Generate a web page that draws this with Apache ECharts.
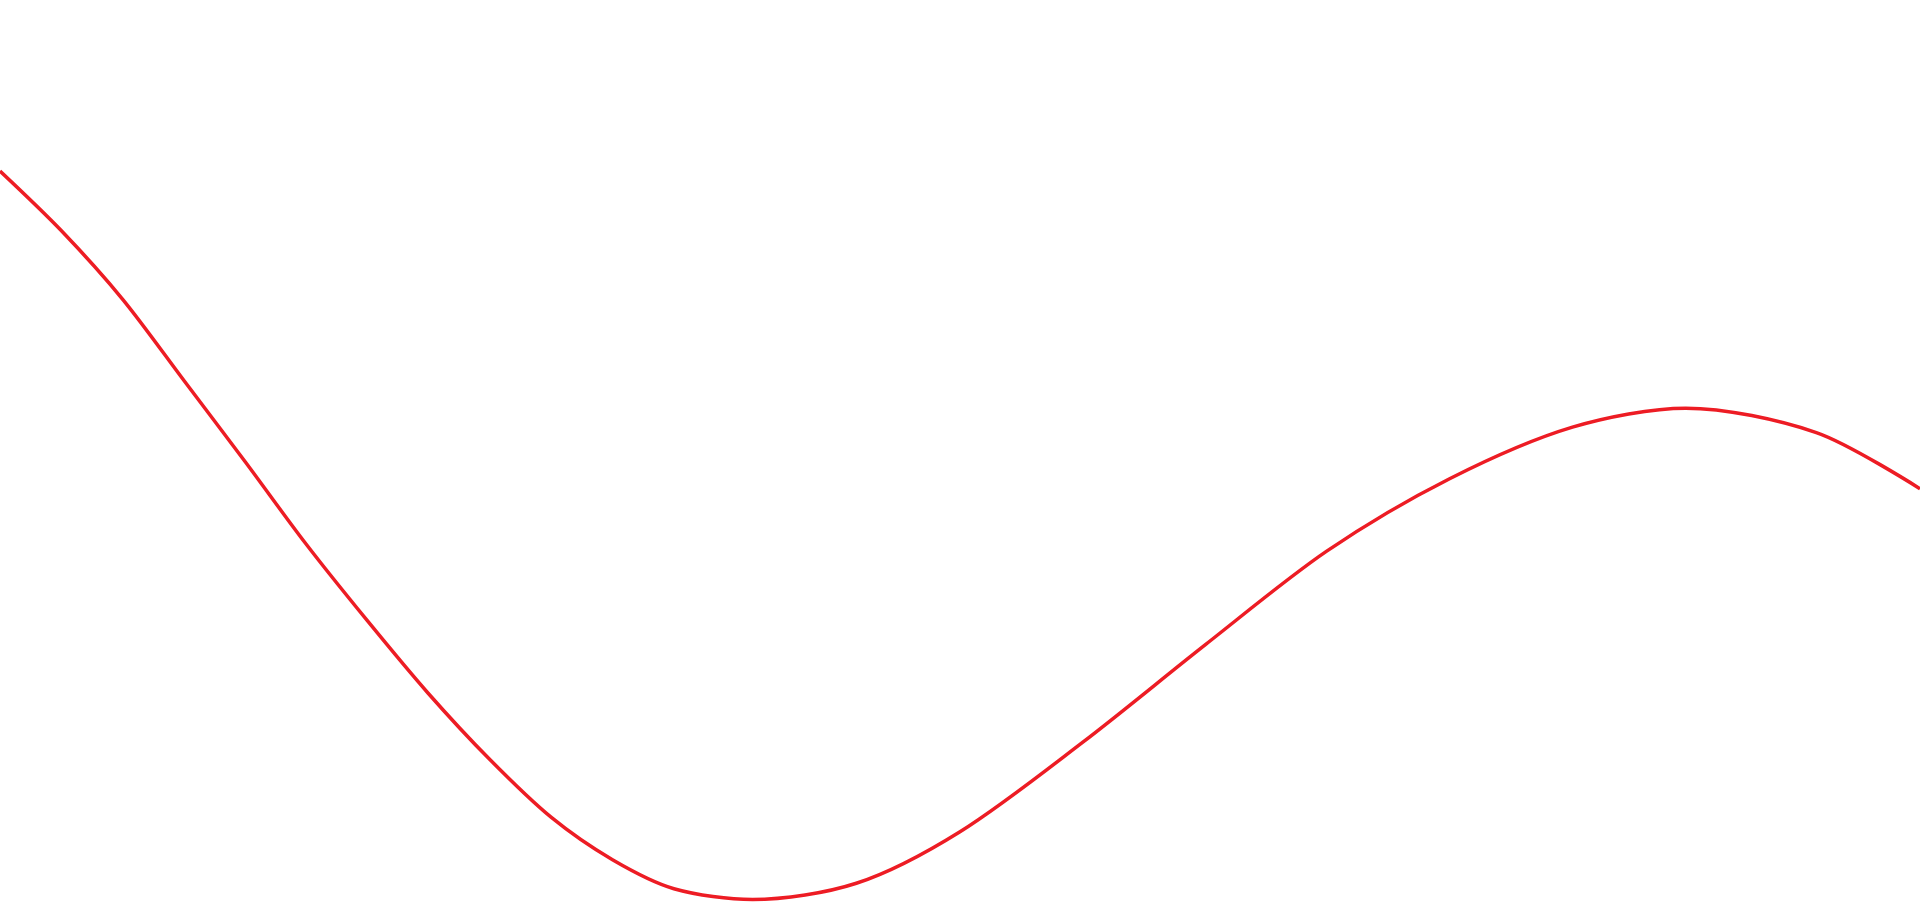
<!DOCTYPE html>
<html>
<head>
<meta charset="utf-8">
<title>wave</title>
<script src="https://cdn.jsdelivr.net/npm/echarts@6/dist/echarts.min.js"></script>
<style>
  html, body { margin: 0; padding: 0; background: #fff; }
  #chart { width: 1920px; height: 905px; }
</style>
</head>
<body>
<div id="chart"></div>
<script>
// values (x and y both as percent of the plot)
const xValues = [0, 3.2, 6.4, 9.6, 12.8, 15.9, 19.1, 22.3, 25.5, 28.7, 31.9, 35.1, 39.2, 44.6, 50, 56.4, 62.8, 69.1, 75.5, 81.9, 87.8, 94.6, 100]
const yValues = [81.1, 74.5, 66.9, 57.9, 48.9, 40.0, 31.5, 23.4, 16.1, 9.7, 5.0, 1.8, 0.6, 2.4, 8.1, 18.0, 28.8, 39.1, 47.1, 52.8, 54.9, 52.2, 46.0]

const points = xValues.map((x, i) => [x, yValues[i]])

const myChart = echarts.init(document.getElementById('chart'))
myChart.setOption({
  animation: false,
  backgroundColor: '#fff',
  grid: { left: 0, right: 0, top: 0, bottom: 0 },
  xAxis: { type: 'value', min: 0, max: 100, show: false },
  yAxis: { type: 'value', min: 0, max: 100, show: false },
  series: [{
    type: 'line',
    data: points,
    smooth: 0.3,
    smoothMonotone: 'none',
    symbol: 'none',
    silent: true,
    lineStyle: { color: '#ed1c24', width: 3.5 }
  }]
})
</script>
</body>
</html>
